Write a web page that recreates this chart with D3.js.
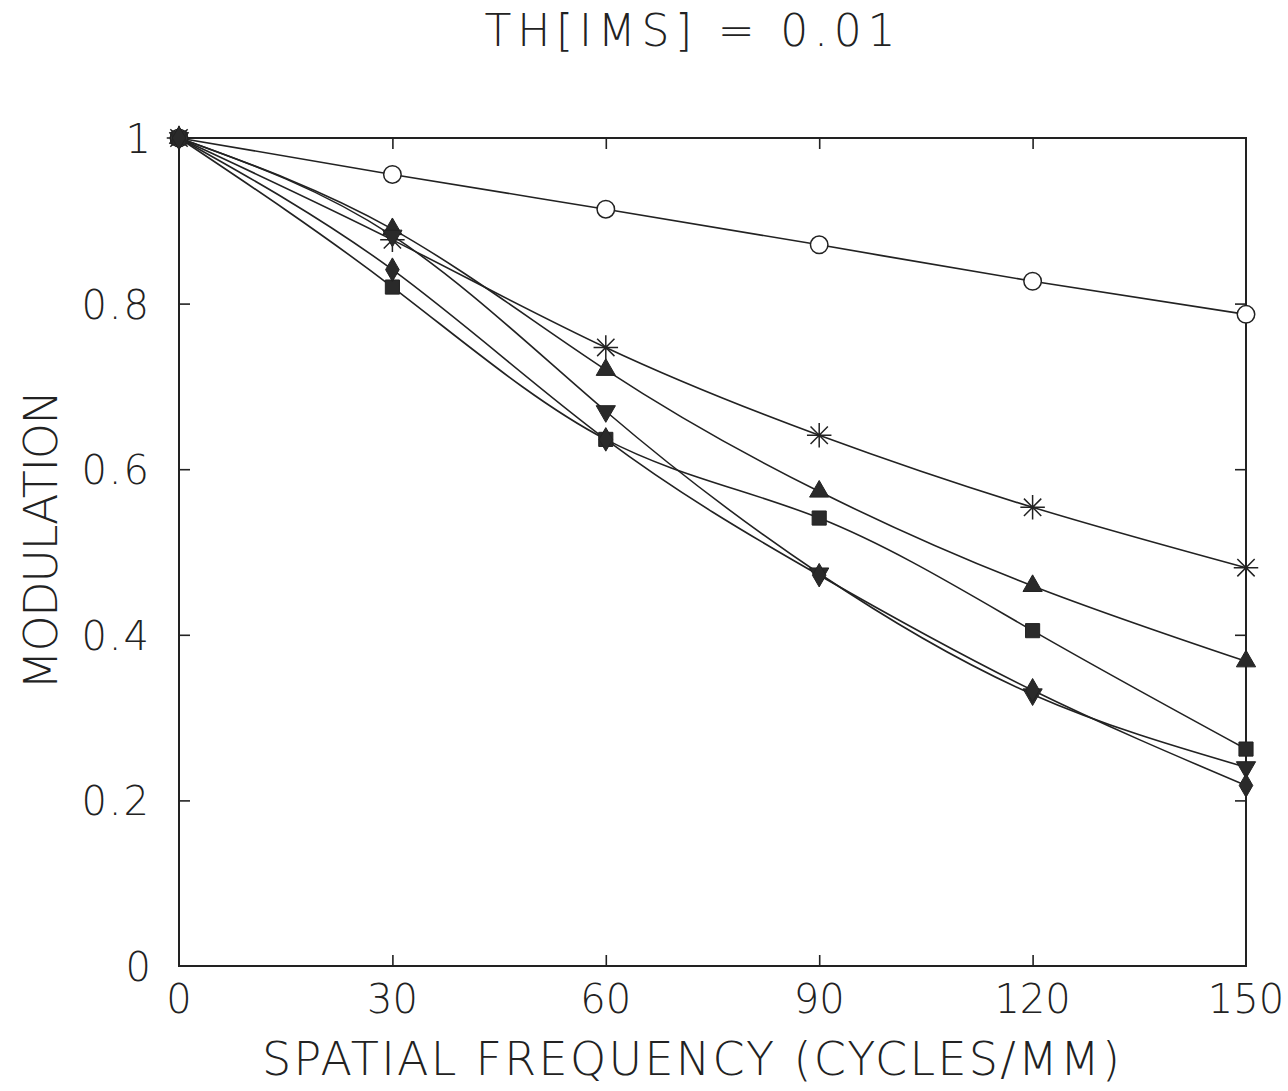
<!DOCTYPE html>
<html>
<head>
<meta charset="utf-8">
<script src="https://cdn.jsdelivr.net/npm/d3@7"></script>
<style>
  body { margin: 0; background: #fff; }
  text { font-family: "DejaVu Sans", sans-serif; font-weight: 200; fill: #222; }
</style>
</head>
<body>
<div id="chart"></div>
<script>
// spatial frequencies (cycles/mm)
const freqs = [0, 30, 60, 90, 120, 150];

// modulation per curve
const circleVals   = [1, 0.956, 0.914, 0.871, 0.827, 0.787];
const starVals     = [1, 0.877, 0.747, 0.641, 0.554, 0.481];
const triUpVals    = [1, 0.890, 0.720, 0.573, 0.459, 0.368];
const triDownVals  = [1, 0.882, 0.670, 0.474, 0.328, 0.240];
const squareVals   = [1, 0.820, 0.636, 0.541, 0.405, 0.262];
const diamondVals  = [1, 0.841, 0.636, 0.472, 0.333, 0.218];

const xTicks = [0, 30, 60, 90, 120, 150];
const yTicks = [0, 0.2, 0.4, 0.6, 0.8, 1];

const series = [
  { name: "circle",  vals: circleVals },
  { name: "star",    vals: starVals },
  { name: "triUp",   vals: triUpVals },
  { name: "triDown", vals: triDownVals },
  { name: "square",  vals: squareVals },
  { name: "diamond", vals: diamondVals }
];

const width = 1288, height = 1091;
const margin = { left: 179, right: 1288 - 1246, top: 138, bottom: 1091 - 966 };

const svg = d3.select("#chart").append("svg")
  .attr("width", width).attr("height", height);

const x = d3.scaleLinear().domain([0, 150]).range([margin.left, width - margin.right]);
const y = d3.scaleLinear().domain([0, 1]).range([height - margin.bottom, margin.top]);

const ink = "#222";

// frame
svg.append("rect")
  .attr("x", x(0)).attr("y", y(1))
  .attr("width", x(150) - x(0)).attr("height", y(0) - y(1))
  .attr("fill", "none").attr("stroke", ink).attr("stroke-width", 2);

// inward ticks on all four sides
const tl = 11;
svg.append("g").attr("transform", `translate(0,${y(0)})`)
  .call(d3.axisTop(x).tickValues(xTicks.slice(1, -1)).tickSize(tl).tickFormat(""))
  .call(g => g.select(".domain").remove());
svg.append("g").attr("transform", `translate(0,${y(1)})`)
  .call(d3.axisBottom(x).tickValues(xTicks.slice(1, -1)).tickSize(tl).tickFormat(""))
  .call(g => g.select(".domain").remove());
svg.append("g").attr("transform", `translate(${x(0)},0)`)
  .call(d3.axisRight(y).tickValues(yTicks.slice(1, -1)).tickSize(tl).tickFormat(""))
  .call(g => g.select(".domain").remove());
svg.append("g").attr("transform", `translate(${x(150)},0)`)
  .call(d3.axisLeft(y).tickValues(yTicks.slice(1, -1)).tickSize(tl).tickFormat(""))
  .call(g => g.select(".domain").remove());
svg.selectAll(".tick line").attr("stroke", ink).attr("stroke-width", 1.6);

// tick labels
svg.append("g").selectAll("text").data(xTicks).join("text")
  .attr("x", d => x(d)).attr("y", y(0) + 47)
  .attr("text-anchor", "middle").attr("font-size", 40)
  .text(d => d);
svg.append("g").selectAll("text").data(yTicks).join("text")
  .attr("x", 151).attr("y", d => y(d) + 15)
  .attr("text-anchor", "end").attr("font-size", 40)
  .attr("letter-spacing", d => (d === 0 || d === 1) ? 0 : 2)
  .text(d => (d === 0 || d === 1) ? d : d3.format(".1f")(d));

// titles
svg.append("text")
  .attr("x", 690).attr("y", 46).attr("text-anchor", "middle")
  .attr("font-size", 44).attr("textLength", 411).attr("lengthAdjust", "spacing")
  .text("TH[IMS] = 0.01");
svg.append("text")
  .attr("x", 691).attr("y", 1075).attr("text-anchor", "middle")
  .attr("font-size", 46).attr("textLength", 858).attr("lengthAdjust", "spacing")
  .text("SPATIAL FREQUENCY (CYCLES/MM)");
svg.append("text")
  .attr("transform", "translate(57,540) rotate(-90)").attr("text-anchor", "middle")
  .attr("font-size", 46).attr("textLength", 300).attr("lengthAdjust", "spacing")
  .text("MODULATION");

// curves
const line = d3.line()
  .x((d, i) => x(freqs[i]))
  .y(d => y(d))
  .curve(d3.curveNatural);

svg.append("g").selectAll("path").data(series).join("path")
  .attr("d", d => line(d.vals))
  .attr("fill", "none").attr("stroke", ink).attr("stroke-width", 1.6);

// eight-armed asterisk like the plotter's
const star8 = {
  draw(ctx, size) {
    const r = Math.sqrt(size) / 2;
    for (let k = 0; k < 4; k++) {
      const a = k * Math.PI / 4;
      ctx.moveTo(r * Math.cos(a), r * Math.sin(a));
      ctx.lineTo(-r * Math.cos(a), -r * Math.sin(a));
    }
  }
};

// markers
const sym = {
  circle:  d3.symbol().type(d3.symbolCircle).size(240),
  star:    d3.symbol().type(star8).size(600),
  triUp:   d3.symbol().type(d3.symbolTriangle).size(160),
  triDown: d3.symbol().type(d3.symbolTriangle).size(160),
  square:  d3.symbol().type(d3.symbolSquare).size(200),
  diamond: d3.symbol().type(d3.symbolDiamond).size(160)
};

series.forEach(s => {
  const g = svg.append("g");
  g.selectAll("path").data(s.vals).join("path")
    .attr("transform", (d, i) => `translate(${x(freqs[i])},${y(d)})` + (s.name === "triDown" ? " rotate(180)" : ""))
    .attr("d", sym[s.name]())
    .attr("fill", s.name === "circle" ? "#fff" : (s.name === "star" ? "none" : "#2a2a2a"))
    .attr("stroke", ink)
    .attr("stroke-width", s.name === "circle" || s.name === "star" ? 1.5 : 1);
});
</script>
</body>
</html>
